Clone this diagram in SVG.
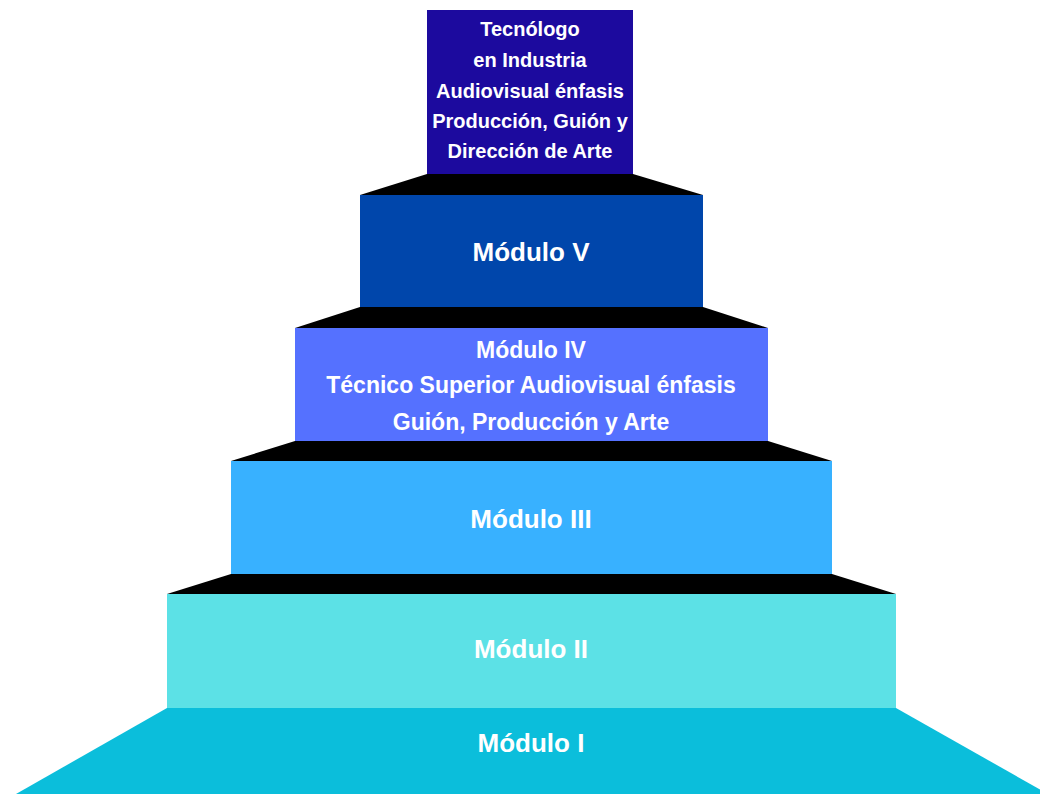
<svg xmlns="http://www.w3.org/2000/svg" width="1040" height="794" viewBox="0 0 1040 794">
<style>
text{font-family:"Liberation Sans",Arial,sans-serif;font-weight:bold;fill:#ffffff;text-anchor:middle}
.t1{font-size:20px}
.t2{font-size:23px}
.t3{font-size:26px}
.step{fill:#000000}
</style>
<rect width="1040" height="794" fill="#ffffff"/>
<g id="connectors">
<polygon class="step" points="427,174 633,174 703,195 360,195"/>
<polygon class="step" points="360,307 703,307 768,328 295,328"/>
<polygon class="step" points="295,441 768,441 832,461 231,461"/>
<polygon class="step" points="231,574 832,574 896,594 167,594"/>
</g>
<g id="modulo1">
<polygon points="167,708 896,708 1048,794 16,794" fill="#0bbedb"/>
<text class="t3" x="531" y="752">Módulo I</text>
</g>
<g id="modulo2">
<rect x="167" y="594" width="729" height="114" fill="#5ce1e6"/>
<text class="t3" x="531" y="658">Módulo II</text>
</g>
<g id="modulo3">
<rect x="231" y="461" width="601" height="113" fill="#38b1ff"/>
<text class="t3" x="531" y="528">Módulo III</text>
</g>
<g id="modulo4">
<rect x="295" y="328" width="473" height="113" fill="#5571ff"/>
<text class="t2" x="531" y="358">Módulo IV</text>
<text class="t2" x="531" y="393">Técnico Superior Audiovisual énfasis</text>
<text class="t2" x="531" y="430">Guión, Producción y Arte</text>
</g>
<g id="modulo5">
<rect x="360" y="195" width="343" height="112" fill="#0046ab"/>
<text class="t3" x="531" y="261">Módulo V</text>
</g>
<g id="tecnologo">
<rect x="427" y="10" width="206" height="164" fill="#1c0a9e"/>
<text class="t1" x="530" y="36">Tecnólogo</text>
<text class="t1" x="530" y="67">en Industria</text>
<text class="t1" x="530" y="98">Audiovisual énfasis</text>
<text class="t1" x="530" y="128">Producción, Guión y</text>
<text class="t1" x="530" y="158">Dirección de Arte</text>
</g>
</svg>
